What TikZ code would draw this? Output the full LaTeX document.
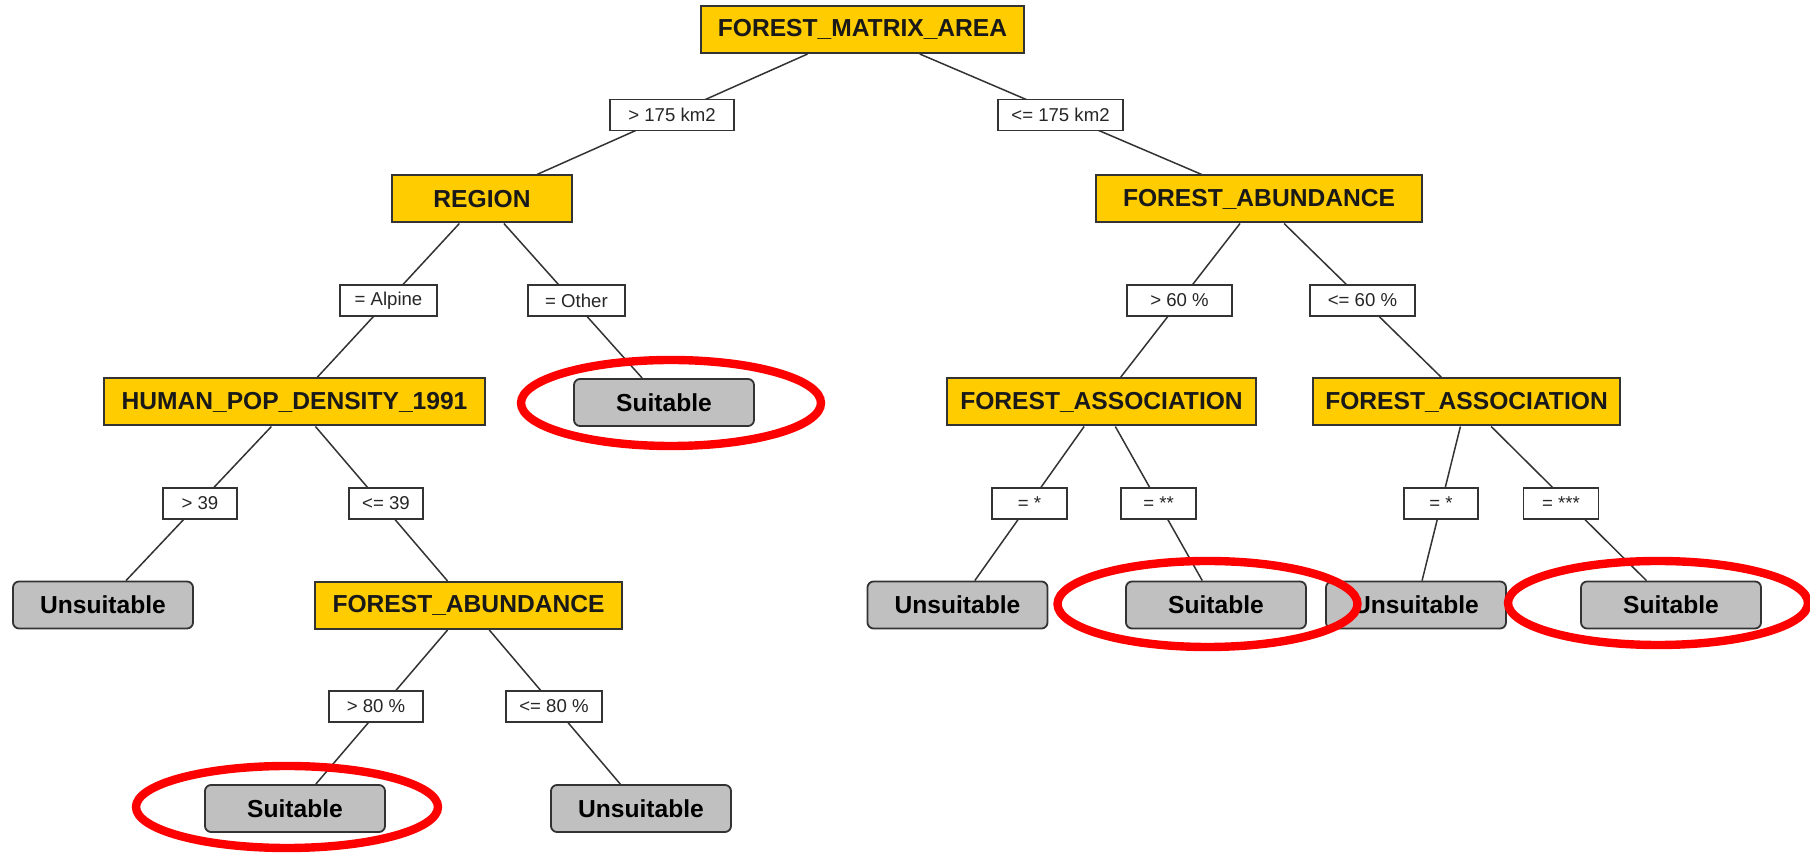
\documentclass[tikz,border=0pt]{standalone}
\usepackage{fontspec}
\setmainfont{Liberation Sans}
\definecolor{decfill}{HTML}{FFCC00}
\definecolor{leaffill}{HTML}{C0C0C0}
\definecolor{ringred}{HTML}{FF0000}
\definecolor{edgegray}{HTML}{333333}
\begin{document}
\begin{tikzpicture}[x=0.5pt,y=-0.5pt,
  dec/.style={draw=edgegray, line width=1pt, fill=decfill, inner sep=0pt,
    minimum height=23.5pt, font=\fontsize{12.3}{14}\selectfont\bfseries, text=black!90},
  leaf/.style={draw=edgegray, line width=0.9pt, fill=leaffill, rounded corners=3pt,
    inner sep=0pt, minimum width=90pt, minimum height=23.5pt,
    font=\fontsize{12.3}{14}\selectfont\bfseries, text=black},
  cond/.style={draw=edgegray, line width=0.8pt, fill=white, inner sep=0pt,
    minimum height=15.5pt, font=\fontsize{9.3}{11}\selectfont, text=black!85},
  branch/.style={draw=edgegray, line width=0.75pt},
  hilite/.style={draw=ringred, line width=4.2pt}
]
\fill[white] (0,0) rectangle (1810,854);
\useasboundingbox (0,0) rectangle (1810,854);

% split nodes
\node[dec, minimum width=161.5pt] (root)  at (862.5,29.5) {FOREST\_MATRIX\_AREA};
\node[dec, minimum width=90pt]    (region) at (482,199)   {REGION};
\node[dec, minimum width=163pt]   (faR)   at (1259,199)   {FOREST\_ABUNDANCE};
\node[dec, minimum width=190.5pt] (human) at (294.5,402)  {HUMAN\_POP\_DENSITY\_1991};
\node[dec, minimum width=153.5pt] (faL)   at (468.5,605.5){FOREST\_ABUNDANCE};
\node[dec, minimum width=154.5pt] (fasL)  at (1101.5,402) {FOREST\_ASSOCIATION};
\node[dec, minimum width=153.5pt] (fasR)  at (1466.5,402) {FOREST\_ASSOCIATION};

% leaves
\node[leaf] (suitA) at (664,402.5)  {Suitable};
\node[leaf] (unsA)  at (103,605)    {Unsuitable};
\node[leaf] (suitB) at (295,808.5)  {Suitable};
\node[leaf] (unsB)  at (641,808.5)  {Unsuitable};
\node[leaf] (unsC)  at (957.5,605)  {Unsuitable};
\node[leaf] (suitC) at (1216,605)   {Suitable};
\node[leaf] (unsD)  at (1416,605)   {Unsuitable};
\node[leaf] (suitD) at (1671,605)   {Suitable};

% branches
\draw[branch] (root) -- (region);
\draw[branch] (root) -- (faR);
\draw[branch] (region) -- (human);
\draw[branch] (region) -- (suitA);
\draw[branch] (human) -- (unsA);
\draw[branch] (human) -- (faL);
\draw[branch] (faL) -- (suitB);
\draw[branch] (faL) -- (unsB);
\draw[branch] (faR) -- (fasL);
\draw[branch] (faR) -- (fasR);
\draw[branch] (fasL) -- (unsC);
\draw[branch] (fasL) -- (suitC);
\draw[branch] (fasR) -- (unsD);
\draw[branch] (fasR) -- (suitD);

% branch conditions
\node[cond, minimum width=62pt]   (cGt175) at (672,115)     {> 175 km2};
\node[cond, minimum width=62.5pt] (cLe175) at (1060.5,115)  {<= 175 km2};
\node[cond, minimum width=48.5pt] (cAlp)   at (388.5,300.5) {= Alpine};
\node[cond, minimum width=48.5pt] (cOth)   at (576.5,300.5) {= Other};
\node[cond, minimum width=52.5pt] (cGt60)  at (1179.5,300.5){> 60 \%};
\node[cond, minimum width=52.5pt] (cLe60)  at (1362.5,300.5){<= 60 \%};
\node[cond, minimum width=37pt]   (cGt39)  at (200,503.5)   {> 39};
\node[cond, minimum width=37pt]   (cLe39)  at (386,503.5)   {<= 39};
\node[cond, minimum width=37.5pt] (cS1)    at (1029.5,503.5){= *};
\node[cond, minimum width=37.5pt] (cS2)    at (1158.5,503.5){= **};
\node[cond, minimum width=37pt]   (cS3)    at (1441,503.5)  {= *};
\node[cond, minimum width=37.5pt] (cS4)    at (1561,503.5)  {= ***};
\node[cond, minimum width=47pt]   (cGt80)  at (376,706.5)   {> 80 \%};
\node[cond, minimum width=48pt]   (cLe80)  at (554,706.5)   {<= 80 \%};

% highlighted outcomes
\draw[hilite] (671,403)    ellipse [x radius=150, y radius=43];
\draw[hilite] (287,807)    ellipse [x radius=151, y radius=41];
\draw[hilite] (1207.5,604) ellipse [x radius=150, y radius=43];
\draw[hilite] (1658,603)   ellipse [x radius=150, y radius=42];
\end{tikzpicture}
\end{document}
